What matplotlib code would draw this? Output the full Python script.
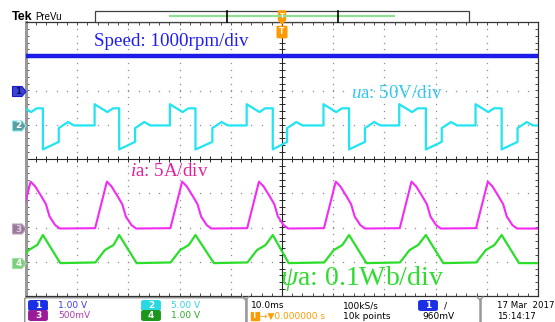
"""Tek scope capture: speed, phase voltage, phase current and flux linkage."""

import matplotlib.pyplot as plt
import numpy as np
from matplotlib.patches import Polygon, Rectangle, FancyBboxPatch

W, H = 555, 322

plt.rcParams["mathtext.fontset"] = "custom"
plt.rcParams["mathtext.rm"] = "Liberation Serif"
plt.rcParams["mathtext.it"] = "Liberation Serif:italic"

###############################################################################
# Data (time in ms, centre = 0; levels in divisions)

ua_rise = [-51.5, -36.6, -21.9, -6.9, 8.1, 22.9, 37.8]  # u_a steps up
ua_fall = [-46.7, -31.8, -16.9, -1.8, 13.1, 28.1, 42.9]  # u_a steps down
ua_zero = [-43.6, -28.7, -13.6, 1.0, 16.2, 31.2, 46.0]  # u_a back to zero

speed_level = 3.0

ua_high_dt = [0.0, 2.5, 3.6]
ua_high = [1.60, 1.37, 1.48]
ua_low = [0.28, 0.50]
ua_mid_dt = [0.0, 1.8, 3.0]
ua_mid = [0.90, 1.08, 0.98]

ia_dt = [0.1, 2.4, 3.3, 4.5, 5.4, 6.1, 7.2, 8.1]
ia = [-2.02, -0.66, -0.80, -1.09, -1.32, -1.68, -1.93, -2.03]

psi_dt = [0.15, 2.0, 3.7]
psi = [-3.02, -2.66, -2.51]
psi_peak = -2.22
psi_base = -3.04

# channel reference markers (pixel rows) and status bar settings
ch_names = ["1", "2", "3", "4"]
ch_rows = [91.5, 126, 229, 263.5]
ch_scales = ["1.00 V", "5.00 V", "500mV", "1.00 V"]


def fx(x):
    return x / W


def fy(y):
    return 1 - y / H


###############################################################################
# Build traces

ua_t, ua_v = [], []
for r, f, z in zip(ua_rise, ua_fall, ua_zero):
    ua_t += [r] + [r + d for d in ua_high_dt] + [f, f, z] + [z + d for d in ua_mid_dt]
    ua_v += [ua_mid[-1]] + ua_high + [ua_high[-1], ua_low[0], ua_low[1]] + ua_mid
ua_t.append(52)
ua_v.append(ua_mid[-1])

ia_t, ia_v = [], []
for r in ua_rise:
    ia_t += [r + d for d in ia_dt]
    ia_v += ia
ia_t.append(52)
ia_v.append(ia[-1])

psi_t, psi_v = [], []
for r, f, z in zip(ua_rise, ua_fall, ua_zero):
    psi_t += [r + d for d in psi_dt] + [f, z + 0.3]
    psi_v += psi + [psi_peak, psi_base]
psi_t.append(52)
psi_v.append(psi_base)

###############################################################################
# Figure

fig = plt.figure(figsize=(W / 100, H / 100), dpi=100)
ax = fig.add_axes([fx(26), fy(296), 512 / W, 274 / H])
ax.set_xlim(-50, 50)
ax.set_ylim(-4, 4)
ax.set_xticks(np.arange(-50, 51, 2))
ax.set_yticks(np.arange(-4, 4.01, 0.2))
ax.tick_params(direction="in", length=2.2, width=0.7, color="0.3",
               top=True, right=True, labelbottom=False, labelleft=False)
for side in ["top", "right", "bottom"]:
    ax.spines[side].set_color("0.2")
    ax.spines[side].set_linewidth(0.9)
ax.spines["left"].set_color("0.6")
ax.spines["left"].set_linewidth(2.2)

# graticule dots
gx = [-40, -30, -20, -10, 10, 20, 30, 40]
gy = [-3, -2, -1, 1, 2, 3]
dot_y = np.arange(-4, 4.01, 0.2)
dot_x = np.arange(-50, 51, 2)
for x in gx:
    ax.plot(np.full_like(dot_y, x), dot_y, "s", ms=0.9, color="0.55", mew=0)
for y in gy:
    ax.plot(dot_x, np.full_like(dot_x, y, dtype=float), "s", ms=0.9, color="0.55", mew=0)

# centre cross with ticks
ax.axhline(0, color="0.15", lw=0.8)
ax.axvline(0, color="0.15", lw=0.8)
ax.plot(dot_x, np.zeros_like(dot_x), "|", ms=4.5, mew=0.7, color="0.15")
ax.plot(np.zeros_like(dot_y), dot_y, "_", ms=4.5, mew=0.7, color="0.15")

# traces
ax.plot([-52, 52], [speed_level, speed_level], color="#1c1ce6", lw=3.2, zorder=5)
ax.plot(ua_t, ua_v, color="#22e4f2", lw=1.6, zorder=5)
ax.plot(ia_t, ia_v, color="#f22cf2", lw=1.5, zorder=5)
ax.plot(psi_t, psi_v, color="#2ade2a", lw=1.6, zorder=5)

# labels on screen
serif = "Liberation Serif"
fig.text(fx(94), fy(46), "Speed: 1000rpm/div", color="#1e1ef0", family=serif, size=13.7)
fig.text(fx(351), fy(97.5), r"$\mathit{u}$a: 50V/div", color="#30c8f0", family=serif, size=13.7)
fig.text(fx(130), fy(176.5), r"$\mathit{i}$a: 5A/div", color="#e0209e", family=serif, size=13.7)
fig.text(fx(280), fy(285), r"$\psi$a: 0.1Wb/div", color="#30dc30", family=serif, size=20)

# channel markers on the left
marker_fill = ["#3a44d6", "#5f9ea0", "#9a7a9a", "#7ccf7c"]
marker_edge = ["#1a1acc", "#7fe8f0", "#c0a0c0", "#a0e0a0"]
marker_text = ["#101060", "white", "#e0d0e0", "white"]
for name, row, fc, ec, tc in zip(ch_names, ch_rows, marker_fill, marker_edge, marker_text):
    pts = [(12.5, row - 5), (22, row - 5), (26, row), (22, row + 5), (12.5, row + 5)]
    fig.patches.append(Polygon([(fx(a), fy(b)) for a, b in pts], closed=True,
                               transform=fig.transFigure, fc=fc, ec=ec, lw=0.8))
    fig.text(fx(18.5), fy(row), name, color=tc, size=6.5, weight="bold",
             ha="center", va="center")

# top header
fig.text(fx(11.5), fy(20), "Tek", family="Liberation Sans", weight="bold", size=9)
fig.text(fx(35), fy(20), "PreVu", family="Liberation Sans", size=7)
fig.patches.append(Rectangle((fx(95), fy(22)), 374 / W, 11 / H, transform=fig.transFigure,
                             fc="white", ec="0.25", lw=0.9))
fig.lines.append(plt.Line2D([fx(170), fx(394)], [fy(16), fy(16)], transform=fig.transFigure,
                            color="#90e090", lw=1.6))
for xb in [226.7, 338.3]:
    fig.lines.append(plt.Line2D([fx(xb), fx(xb)], [fy(11), fy(22)], transform=fig.transFigure,
                                color="black", lw=1.2))
orange = "#ff9a00"
pts = [(278.5, 11), (285.5, 11), (285.5, 20), (282, 24), (278.5, 20)]
fig.patches.append(Polygon([(fx(a), fy(b)) for a, b in pts], closed=True,
                           transform=fig.transFigure, fc=orange, ec=orange))
fig.text(fx(282), fy(16), "T", color="white", size=5, weight="bold", ha="center", va="center")
fig.patches.append(FancyBboxPatch((fx(278.3), fy(37)), 7.4 / W, 10 / H,
                                  boxstyle="round,pad=0.002", transform=fig.transFigure,
                                  fc=orange, ec=orange))
fig.text(fx(282), fy(32), "T", color="white", size=5.5, weight="bold", ha="center", va="center")

# status bar
fig.patches.append(FancyBboxPatch((fx(27), fy(330)), 217 / W, 31 / H,
                                  boxstyle="round,pad=0.004", transform=fig.transFigure,
                                  fc="white", ec="0.55", lw=1.0))
pill_fill = ["#1a2ee6", "#2ad8e2", "#9a1a9a", "#1c961c"]
scale_color = ["#3c3ce6", "#36d2e6", "#b03cb0", "#2eaa2e"]
pill_pos = [(38, 305.5), (151, 305.5), (38, 315.5), (151, 315.5)]
for name, scale, (px, py), fc, tc in zip(ch_names, ch_scales, pill_pos, pill_fill, scale_color):
    fig.patches.append(FancyBboxPatch((fx(px - 7), fy(py + 3.5)), 14 / W, 7 / H,
                                      boxstyle="round,pad=0.004", transform=fig.transFigure,
                                      fc=fc, ec=fc))
    fig.text(fx(px), fy(py), name, color="white", size=6.5, weight="bold",
             ha="center", va="center")
    fig.text(fx(px + 20), fy(py + 3), scale, color=tc, size=6.5)

for xb in [245.5, 480]:
    fig.lines.append(plt.Line2D([fx(xb), fx(xb)], [fy(299), fy(322)], transform=fig.transFigure,
                                color="0.6", lw=1.8))
    fig.lines.append(plt.Line2D([fx(xb - 3), fx(xb), fx(xb + 3)], [fy(297), fy(300), fy(297)],
                                transform=fig.transFigure, color="0.6", lw=1.0))

fig.text(fx(251), fy(308.5), "10.0ms", color="black", size=6.5)
fig.patches.append(Rectangle((fx(251), fy(320)), 7.5 / W, 8.5 / H, transform=fig.transFigure,
                             fc=orange, ec=orange))
fig.text(fx(254.7), fy(315.8), "T", color="white", size=5.5, weight="bold",
         ha="center", va="center")
fig.text(fx(259.5), fy(319), "\u2192\u25bc0.000000 s", color=orange, size=6.5)
fig.text(fx(343), fy(308.5), "100kS/s", color="black", size=6.5)
fig.text(fx(343), fy(319), "10k points", color="black", size=6.5)
fig.patches.append(FancyBboxPatch((fx(421), fy(309)), 14 / W, 7 / H,
                                  boxstyle="round,pad=0.004", transform=fig.transFigure,
                                  fc="#1a2ee6", ec="#1a2ee6"))
fig.text(fx(428), fy(305.5), "1", color="white", size=6.5, weight="bold",
         ha="center", va="center")
fig.text(fx(444), fy(308.5), "/", color="black", size=6.5)
fig.text(fx(422.5), fy(319), "960mV", color="black", size=6.5)
fig.text(fx(497.5), fy(308.5), "17 Mar  2017", color="black", size=6.2)
fig.text(fx(497.5), fy(319), "15:14:17", color="black", size=6.2)

fig.savefig("out.png", dpi=100)
